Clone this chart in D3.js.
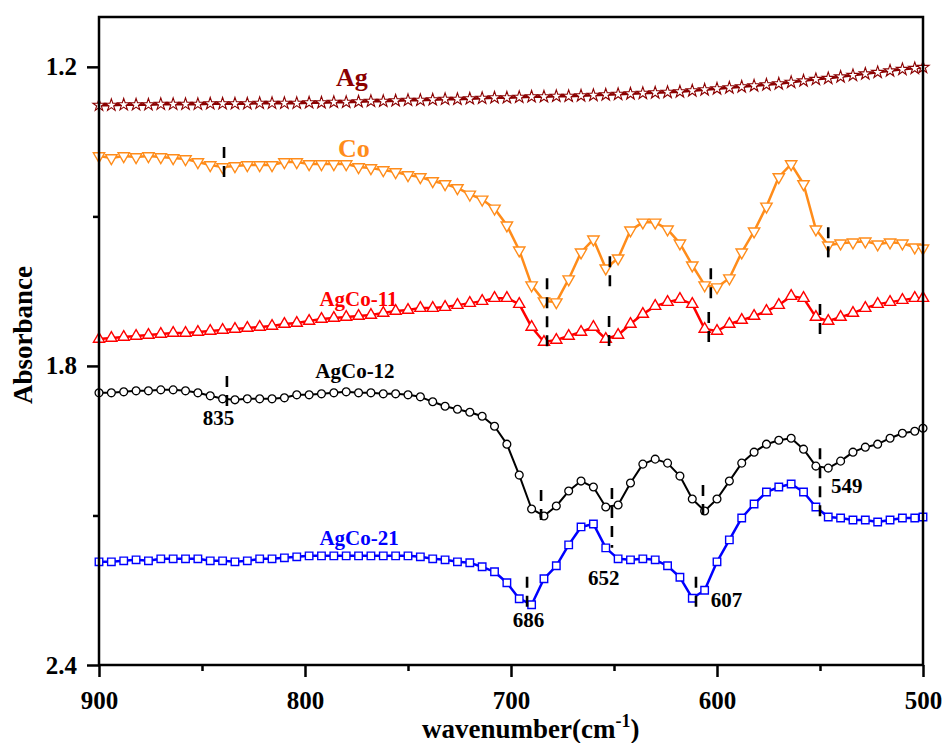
<!DOCTYPE html>
<html><head><meta charset="utf-8">
<script src="https://cdn.jsdelivr.net/npm/d3@7"></script>
<style>body{margin:0;background:#fff}svg{display:block}</style>
</head><body>
<svg id="chart" width="944" height="743"></svg>
<script>
// ---- data ----
const wavenumbers = [900,894,888,882,876,870,864,858,852,846,840,834,828,822,816,810,804,798,792,786,780,774,768,762,756,750,744,738,732,726,720,714,708,702,696,690,684,678,672,666,660,654,648,642,636,630,624,618,612,606,600,594,588,582,576,570,564,558,552,546,540,534,528,522,516,510,504,500];

const agValues = [1.277,1.277,1.276,1.276,1.276,1.275,1.275,1.275,1.275,1.274,
 1.274,1.274,1.274,1.273,1.273,1.273,1.273,1.272,1.272,1.271,
 1.271,1.270,1.269,1.269,1.268,1.267,1.267,1.266,1.265,1.265,
 1.264,1.263,1.262,1.262,1.261,1.260,1.260,1.259,1.259,1.258,
 1.257,1.256,1.255,1.254,1.253,1.252,1.251,1.250,1.248,1.246,
 1.244,1.242,1.240,1.238,1.236,1.234,1.231,1.228,1.225,1.223,
 1.220,1.217,1.214,1.211,1.208,1.205,1.203,1.201];

const coValues = [1.379,1.383,1.379,1.381,1.379,1.381,1.383,1.385,1.391,1.397,
 1.401,1.399,1.397,1.397,1.397,1.391,1.391,1.395,1.395,1.395,
 1.395,1.401,1.403,1.407,1.411,1.417,1.421,1.429,1.435,1.443,
 1.456,1.466,1.484,1.518,1.568,1.638,1.670,1.672,1.626,1.572,
 1.546,1.604,1.584,1.528,1.512,1.512,1.526,1.554,1.598,1.638,
 1.642,1.624,1.572,1.530,1.480,1.421,1.395,1.435,1.526,1.558,
 1.554,1.552,1.550,1.556,1.552,1.554,1.562,1.564];

const agco11Values = [1.746,1.744,1.742,1.740,1.738,1.736,1.734,1.734,1.732,1.730,
 1.728,1.726,1.724,1.722,1.720,1.716,1.714,1.710,1.706,1.704,
 1.702,1.700,1.698,1.694,1.690,1.688,1.684,1.684,1.682,1.678,
 1.674,1.670,1.664,1.664,1.676,1.722,1.752,1.748,1.740,1.732,
 1.722,1.746,1.738,1.716,1.696,1.680,1.672,1.666,1.676,1.726,
 1.730,1.716,1.708,1.700,1.690,1.678,1.660,1.664,1.702,1.710,
 1.702,1.694,1.684,1.676,1.672,1.668,1.664,1.664];

const agco12Values = [1.854,1.854,1.852,1.850,1.850,1.848,1.848,1.850,1.854,1.860,
 1.866,1.868,1.866,1.866,1.866,1.864,1.858,1.858,1.856,1.854,
 1.852,1.854,1.854,1.856,1.856,1.858,1.862,1.872,1.881,1.887,
 1.893,1.901,1.921,1.957,2.019,2.087,2.101,2.081,2.051,2.031,
 2.043,2.083,2.079,2.035,1.997,1.987,1.995,2.021,2.067,2.091,
 2.067,2.031,1.995,1.973,1.957,1.949,1.945,1.967,2.001,2.005,
 1.991,1.973,1.963,1.957,1.945,1.935,1.931,1.925];

const agco21Values = [2.193,2.193,2.191,2.189,2.191,2.187,2.187,2.187,2.187,2.191,
 2.191,2.193,2.191,2.187,2.187,2.185,2.183,2.181,2.181,2.181,
 2.181,2.181,2.181,2.181,2.181,2.181,2.183,2.187,2.189,2.193,
 2.195,2.203,2.213,2.235,2.267,2.279,2.227,2.201,2.159,2.123,
 2.117,2.165,2.187,2.189,2.187,2.189,2.201,2.224,2.266,2.250,
 2.193,2.149,2.105,2.077,2.053,2.043,2.037,2.053,2.083,2.103,
 2.105,2.109,2.109,2.113,2.109,2.105,2.105,2.103];

const yTicks = [1.2, 1.8, 2.4];
const yMinorTicks = [1.5, 2.1];
const xTicks = [900, 800, 700, 600, 500];
const xMinorTicks = [850, 750, 650, 550];

// series labels: [text, wavenumber, absorbance]
const seriesLabels = [
  ["Ag", 785, 1.239],
  ["Co", 784, 1.381],
  ["AgCo-11", 793, 1.680],
  ["AgCo-12", 795, 1.824],
  ["AgCo-21", 793, 2.159]
];
// peak annotations: [text, wavenumber, absorbance, anchor]
const peakLabels = [
  ["835", 842, 1.919, "middle"],
  ["686", 691.5, 2.324, "middle"],
  ["652", 655, 2.239, "middle"],
  ["607", 603, 2.284, "start"],
  ["549", 544.7, 2.055, "start"]
];
// dashed peak marks: [wavenumber, top absorbance, bottom absorbance]
const peakMarks = [
  [839.3, 1.361, 1.427],
  [837.9, 1.820, 1.883],
  [682.5, 1.624, 1.776],
  [652.0, 1.580, 1.648],
  [652.4, 1.700, 1.768],
  [603.0, 1.604, 1.672],
  [604.0, 1.692, 1.758],
  [546.0, 1.522, 1.592],
  [550.0, 1.676, 1.744],
  [685.4, 2.049, 2.117],
  [651.0, 2.045, 2.165],
  [606.8, 2.039, 2.107],
  [550.0, 1.965, 2.109],
  [692.2, 2.223, 2.290],
  [610.2, 2.223, 2.290]
];

// ---- drawing ----
const FONT = "'Liberation Serif','Times New Roman',serif";
const svg = d3.select("#chart");
const L = 99, R = 923, T = 17, B = 665;
const x = d3.scaleLinear().domain([900, 500]).range([L, R]);
const y = d3.scaleLinear().domain([1.1, 2.4]).range([T, B]);

const series = [
  {name: "Ag", values: agValues, color: "#8b0000", sym: d3.symbolStar, size: 46, rot: 0, lw: 2.4, mw: 1.1},
  {name: "Co", values: coValues, color: "#ff8c1a", sym: d3.symbolTriangle, size: 56, rot: 180, lw: 2.5, mw: 1.4},
  {name: "AgCo-11", values: agco11Values, color: "#ff0000", sym: d3.symbolTriangle, size: 54, rot: 0, lw: 2.5, mw: 1.4},
  {name: "AgCo-12", values: agco12Values, color: "#000000", sym: d3.symbolCircle, size: 48, rot: 0, lw: 2, mw: 1.3},
  {name: "AgCo-21", values: agco21Values, color: "#0000ff", sym: d3.symbolSquare, size: 56, rot: 0, lw: 2.5, mw: 1.4}
];

const line = d3.line().x(d => x(d[0])).y(d => y(d[1]));

series.forEach(s => {
  const pts = wavenumbers.map((w, i) => [w, s.values[i]]);
  svg.append("path").datum(pts)
    .attr("d", line).attr("fill", "none")
    .attr("stroke", s.color).attr("stroke-width", s.lw)
    .attr("stroke-linejoin", "round");
  svg.append("g").selectAll("path").data(pts).join("path")
    .attr("d", d3.symbol().type(s.sym).size(s.size))
    .attr("transform", d => `translate(${x(d[0])},${y(d[1])}) rotate(${s.rot})`)
    .attr("fill", "#fff").attr("stroke", s.color).attr("stroke-width", s.mw);
});

// dashed marks
svg.append("g").selectAll("line").data(peakMarks).join("line")
  .attr("x1", d => x(d[0])).attr("x2", d => x(d[0]))
  .attr("y1", d => y(d[1])).attr("y2", d => y(d[2]))
  .attr("stroke", "#000").attr("stroke-width", 2.6)
  .attr("stroke-dasharray", "11,8");

// series labels
svg.append("g").selectAll("text").data(seriesLabels).join("text")
  .attr("x", d => x(d[1])).attr("y", d => y(d[2]))
  .attr("fill", (d, i) => series[i].color)
  .attr("font-family", FONT).attr("font-weight", "bold")
  .attr("font-size", (d, i) => i < 2 ? 26 : 21)
  .text(d => d[0]);

// peak labels
svg.append("g").selectAll("text").data(peakLabels).join("text")
  .attr("x", d => x(d[1])).attr("y", d => y(d[2]))
  .attr("text-anchor", d => d[3])
  .attr("fill", "#000")
  .attr("font-family", FONT).attr("font-weight", "bold").attr("font-size", 21)
  .text(d => d[0]);

// axes
function styleAxis(g) {
  g.select(".domain").remove();
  g.selectAll(".tick line").attr("stroke", "#000").attr("stroke-width", 2.5);
  g.selectAll(".tick text").attr("fill", "#000")
    .attr("font-family", FONT).attr("font-weight", "bold").attr("font-size", 25);
}
svg.append("g").attr("transform", `translate(${L},0)`)
  .call(d3.axisLeft(y).tickValues(yTicks).tickSize(12).tickPadding(10).tickFormat(d3.format(".1f")))
  .call(styleAxis);
svg.append("g").attr("transform", `translate(${L},0)`)
  .call(d3.axisLeft(y).tickValues(yMinorTicks).tickSize(6).tickFormat(""))
  .call(styleAxis);
svg.append("g").attr("transform", `translate(0,${B})`)
  .call(d3.axisBottom(x).tickValues(xTicks).tickSize(12).tickPadding(14).tickFormat(d3.format("d")))
  .call(styleAxis);
svg.append("g").attr("transform", `translate(0,${B})`)
  .call(d3.axisBottom(x).tickValues(xMinorTicks).tickSize(6).tickFormat(""))
  .call(styleAxis);

// frame
svg.append("rect").attr("x", L).attr("y", T).attr("width", R - L).attr("height", B - T)
  .attr("fill", "none").attr("stroke", "#000").attr("stroke-width", 2.5);

// axis titles
const xt = svg.append("text").attr("x", 422).attr("y", 738)
  .attr("font-family", FONT).attr("font-weight", "bold").attr("font-size", 27).attr("fill", "#000");
xt.append("tspan").text("wavenumber(cm");
xt.append("tspan").attr("font-size", 18).attr("dy", -11).text("-1");
xt.append("tspan").attr("dy", 11).text(")");

svg.append("text").attr("transform", "translate(32,335) rotate(-90)")
  .attr("text-anchor", "middle")
  .attr("font-family", FONT).attr("font-weight", "bold").attr("font-size", 27).attr("fill", "#000")
  .text("Absorbance");
</script>
</body></html>
